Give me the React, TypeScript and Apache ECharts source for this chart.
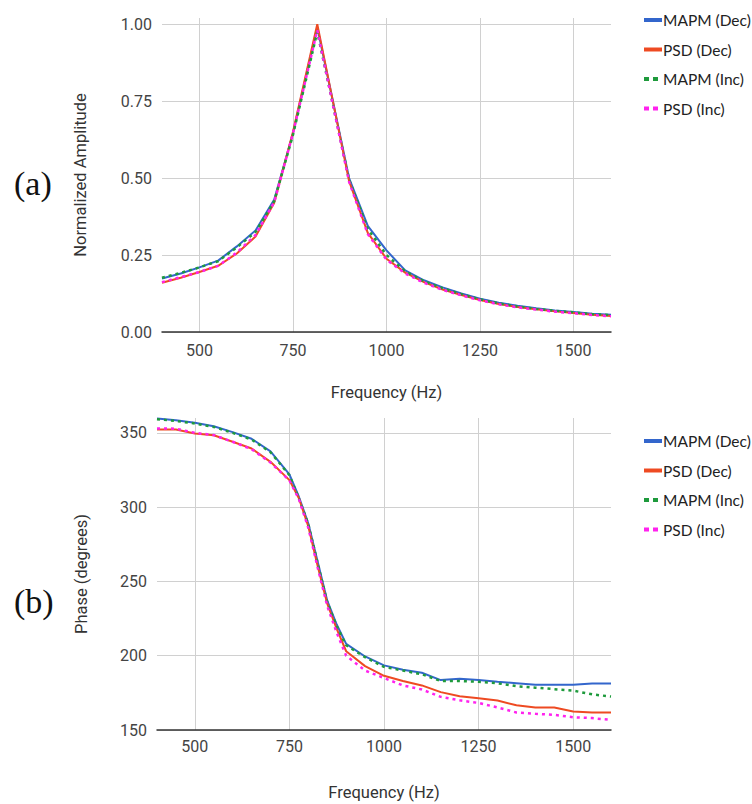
import React, { useEffect, useRef } from "react";
import * as echarts from "echarts";

// ---- Data ----
const SERIES_NAMES = ["MAPM (Dec)", "PSD (Dec)", "MAPM (Inc)", "PSD (Inc)"];

// (a) Normalized amplitude
const FREQ_AMP = [400, 450, 500, 550, 600, 650, 700, 750, 815, 900, 950, 1000, 1050, 1100, 1150, 1200, 1250, 1300, 1350, 1400, 1450, 1500, 1550, 1600];
const AMP_MAPM_DEC = [0.174, 0.19, 0.21, 0.232, 0.278, 0.33, 0.43, 0.645, 0.99, 0.5, 0.345, 0.265, 0.2, 0.168, 0.145, 0.125, 0.108, 0.095, 0.085, 0.077, 0.07, 0.065, 0.059, 0.056];
const AMP_PSD_DEC = [0.16, 0.176, 0.195, 0.215, 0.255, 0.31, 0.42, 0.65, 1.0, 0.49, 0.322, 0.238, 0.193, 0.162, 0.138, 0.12, 0.104, 0.091, 0.081, 0.074, 0.067, 0.062, 0.056, 0.052];
const AMP_MAPM_INC = [0.176, 0.192, 0.21, 0.23, 0.275, 0.325, 0.425, 0.64, 0.975, 0.495, 0.335, 0.25, 0.197, 0.165, 0.142, 0.123, 0.106, 0.093, 0.083, 0.075, 0.069, 0.064, 0.058, 0.055];
const AMP_PSD_INC = [0.162, 0.178, 0.195, 0.215, 0.258, 0.315, 0.422, 0.645, 0.98, 0.488, 0.318, 0.235, 0.19, 0.16, 0.137, 0.119, 0.103, 0.09, 0.08, 0.073, 0.066, 0.061, 0.055, 0.051];

// (b) Phase
const FREQ_PH = [400, 450, 500, 550, 600, 650, 700, 750, 775, 800, 825, 850, 875, 900, 950, 1000, 1050, 1100, 1150, 1200, 1250, 1300, 1350, 1400, 1450, 1500, 1550, 1600];
const PH_MAPM_DEC = [359.6, 358.5, 356.8, 354.5, 350.5, 346, 337.5, 322, 307, 289, 263, 237, 221, 208, 199.5, 193.5, 190.5, 188.5, 183.6, 184.5, 183.6, 182.5, 181.5, 180.5, 180.5, 180.5, 181.3, 181.3];
const PH_PSD_DEC = [352.2, 352.2, 349.6, 348.4, 344, 339.5, 330.5, 318.2, 306, 287, 260, 235, 218, 203, 193, 186.5, 183, 180, 175.5, 172.7, 171.4, 169.8, 166.6, 165.2, 165.2, 162.5, 161.8, 161.8];
const PH_MAPM_INC = [359.2, 358, 356.3, 354, 350, 345.5, 337, 321.5, 306, 288.5, 262, 236, 220, 207, 199, 192.5, 190, 187.5, 183, 183, 182.5, 181.5, 179.5, 178.5, 177.5, 176.5, 174, 172.5];
const PH_PSD_INC = [353, 352.8, 350, 348.5, 344, 339, 330, 318, 305.5, 286, 259, 233.5, 215.5, 200, 190, 185, 180, 177.3, 172.3, 170, 168.2, 165.2, 161.8, 160.9, 160.2, 158.6, 158, 156.8];

const X_TICKS = [500, 750, 1000, 1250, 1500];

const COLORS = ["#3366cc", "#ee4a22", "#1e9a3c", "#ff22ee"];

function pairs(xs: number[], ys: number[]) {
  return xs.map((x, i) => [x, ys[i]]);
}

export default function App() {
  const ref = useRef<HTMLDivElement>(null);
  useEffect(() => {
    if (!ref.current) return;
    const chart = echarts.init(ref.current, undefined, { renderer: "svg" });
    const labelStyle = { fontFamily: "Roboto", fontSize: 16, color: "#444" };
    const nameStyle = { fontFamily: "Roboto", fontSize: 16.5, color: "#333" };
    const mkX = (gridIndex: number, gap: number, margin: number) => ({
      type: "value",
      gridIndex,
      min: 400,
      max: 1600,
      name: "Frequency (Hz)",
      nameLocation: "middle",
      nameGap: gap,
      nameTextStyle: nameStyle,
      axisLine: { show: true, lineStyle: { color: "#333", width: 1.5 } },
      axisTick: { show: false, customValues: X_TICKS },
      axisLabel: { ...labelStyle, margin, customValues: X_TICKS, formatter: (v: number) => String(v) },
      splitLine: { show: true, lineStyle: { color: "#d0d0d0", width: 1 } },
    });
    const lineSeries = (name: string, idx: number, data: number[][], axis: number) => ({
      type: "line",
      name,
      xAxisIndex: axis,
      yAxisIndex: axis,
      data,
      symbol: "none",
      showSymbol: false,
      lineStyle: {
        color: COLORS[idx],
        width: idx < 2 ? 2 : 2.5,
        type: idx < 2 ? "solid" : [3, 4],
      },
      itemStyle: { color: COLORS[idx] },
      z: 2 + idx,
    });
    const legendData = SERIES_NAMES.map((name, i) => ({
      name,
      itemStyle: { opacity: 0 },
      lineStyle: { width: 4, type: i < 2 ? "solid" : [5, 4], color: COLORS[i] },
    }));
    const legendBase = {
      orient: "vertical",
      left: 637,
      itemWidth: 18,
      itemHeight: 10,
      itemGap: 13.5,
      textStyle: { fontFamily: "Lato", fontSize: 15.5, color: "#222", padding: [0, 0, 0, -4] },
      data: legendData,
      selectedMode: false,
    };
    chart.setOption({
      animation: false,
      backgroundColor: "#ffffff",
      grid: [
        { left: 162, right: 141, top: 18, bottom: 472, outerBoundsMode: "none" },
        { left: 157, right: 141, top: 418, bottom: 74, outerBoundsMode: "none" },
      ],
      legend: [
        { ...legendBase, top: 7 },
        { ...legendBase, top: 428 },
      ],
      xAxis: [mkX(0, 52, 10), mkX(1, 54, 8)],
      yAxis: [
        {
          type: "value",
          gridIndex: 0,
          min: 0,
          max: 1.02,
          interval: 0.25,
          name: "Normalized Amplitude",
          nameLocation: "middle",
          nameGap: 73,
          nameRotate: 90,
          nameTextStyle: nameStyle,
          axisLine: { show: false },
          axisTick: { show: false },
          axisLabel: { ...labelStyle, margin: 10, showMaxLabel: false, formatter: (v: number) => v.toFixed(2) },
          splitLine: { show: true, showMaxLine: false, lineStyle: { color: "#d0d0d0", width: 1 } },
        },
        {
          type: "value",
          gridIndex: 1,
          min: 150,
          max: 360,
          interval: 50,
          name: "Phase (degrees)",
          nameLocation: "middle",
          nameGap: 67,
          nameRotate: 90,
          nameTextStyle: nameStyle,
          axisLine: { show: false },
          axisTick: { show: false },
          axisLabel: { ...labelStyle, margin: 10, showMaxLabel: false },
          splitLine: { show: true, showMaxLine: false, lineStyle: { color: "#d0d0d0", width: 1 } },
        },
      ],
      graphic: [
        { type: "text", left: 14, top: 166, style: { text: "(a)", font: "34px 'Liberation Serif', serif", fill: "#111" } },
        { type: "text", left: 14, top: 584, style: { text: "(b)", font: "34px 'Liberation Serif', serif", fill: "#111" } },
      ],
      series: [
        lineSeries(SERIES_NAMES[0], 0, pairs(FREQ_AMP, AMP_MAPM_DEC), 0),
        lineSeries(SERIES_NAMES[1], 1, pairs(FREQ_AMP, AMP_PSD_DEC), 0),
        lineSeries(SERIES_NAMES[2], 2, pairs(FREQ_AMP, AMP_MAPM_INC), 0),
        lineSeries(SERIES_NAMES[3], 3, pairs(FREQ_AMP, AMP_PSD_INC), 0),
        lineSeries(SERIES_NAMES[0], 0, pairs(FREQ_PH, PH_MAPM_DEC), 1),
        lineSeries(SERIES_NAMES[1], 1, pairs(FREQ_PH, PH_PSD_DEC), 1),
        lineSeries(SERIES_NAMES[2], 2, pairs(FREQ_PH, PH_MAPM_INC), 1),
        lineSeries(SERIES_NAMES[3], 3, pairs(FREQ_PH, PH_PSD_INC), 1),
      ],
    });
    return () => chart.dispose();
  }, []);
  return (
    <div
      ref={ref}
      style={{ position: "absolute", left: 0, top: 0, width: 752, height: 804, background: "#fff" }}
    />
  );
}
